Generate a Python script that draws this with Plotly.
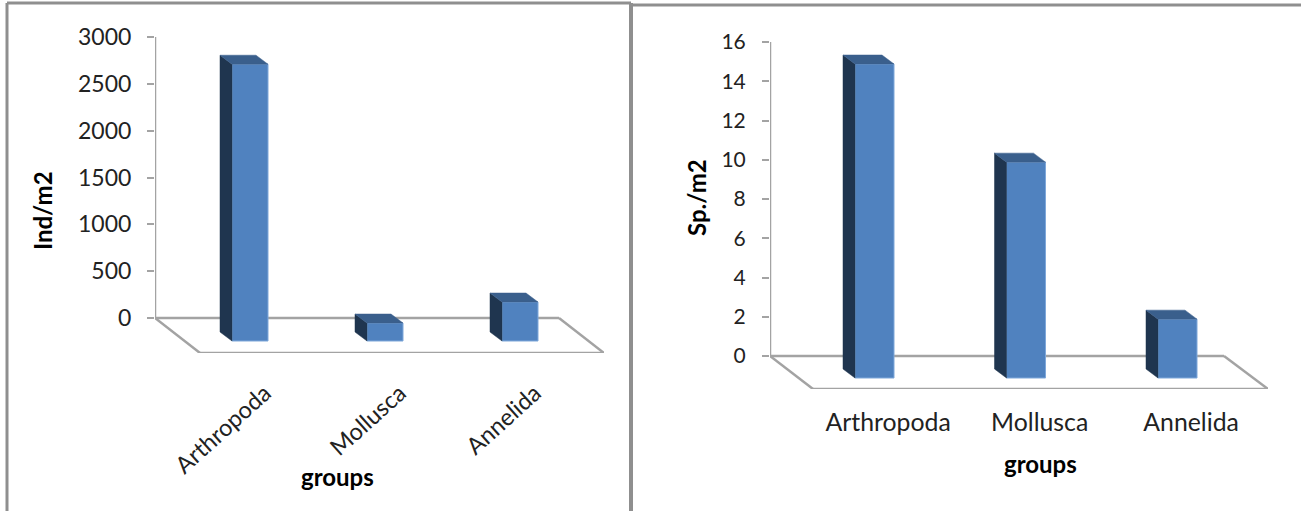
import plotly.graph_objects as go

W, H = 1301, 511
FONT = "Lato"
TXT = "#222222"
GREY = "#A3A3A3"
FRONT = "#5082BF"
EDGE = "#7FA8DA"
SIDE = "#1F354F"
TOP = "#3A5F8C"

categories = ["Arthropoda", "Mollusca", "Annelida"]
ind_values = [2955, 192, 416]
sp_values = [16, 11, 3]
ind_ticks = [0, 500, 1000, 1500, 2000, 2500, 3000]
sp_ticks = [0, 2, 4, 6, 8, 10, 12, 14, 16]

panels = [
    dict(vals=ind_values, ticks=ind_ticks, ax_left=155, floor_right=604, y_top=37, y_zero=318, y_floor=353,
         top_val=3000, first=250, step=135, bar_px=36, depth=(12, 9), base_px=23, floor_dx=45, floor_back_right=559,
         angle=-42, label_off=0.11, xs="x", ys="y", xstand=21, ystand=11, tick_size=23, xtick_size=23.5),
    dict(vals=sp_values, ticks=sp_ticks, ax_left=770, floor_right=1268, y_top=42, y_zero=356, y_floor=389,
         top_val=16, first=874.5, step=151.5, bar_px=39, depth=(12, 9), base_px=22, floor_dx=43, floor_back_right=1224,
         angle=0, label_off=0.09, xs="x2", ys="y2", xstand=16, ystand=12, tick_size=21, xtick_size=24.8),
]

fig = go.Figure()
shapes = []

def paper_line(x0, y0, x1, y1, width=3, color="#8F8F8F"):
    shapes.append(dict(type="line", xref="paper", yref="paper", x0=x0 / W, x1=x1 / W,
                       y0=1 - y0 / H, y1=1 - y1 / H, line=dict(color=color, width=width)))

for p in panels:
    unit = (p["y_zero"] - p["y_top"]) / p["top_val"]          # px per value unit
    xl = (p["ax_left"] - p["first"]) / p["step"]
    xr = (p["floor_right"] - p["first"]) / p["step"]
    yb = -(p["y_floor"] - p["y_zero"]) / unit
    base = -p["base_px"] / unit
    w = p["bar_px"] / p["step"]
    dx, dy = p["depth"][0] / p["step"], p["depth"][1] / unit
    xback = (p["floor_back_right"] - p["first"]) / p["step"]
    xfront = xl + p["floor_dx"] / p["step"]
    pos = list(range(len(categories)))

    floor = [(xl, 0, xback, 0), (xl, 0, xfront, yb), (xfront, yb, xr, yb), (xback, 0, xr, yb),
             (xl, 0, xl, p["top_val"])]
    for a, b, c, d in floor:
        shapes.append(dict(type="line", xref=p["xs"], yref=p["ys"], x0=a, y0=b, x1=c, y1=d, layer="below",
                           line=dict(color=GREY, width=2.5)))

    fig.add_trace(go.Bar(x=pos, y=p["vals"], base=base, width=w, xaxis=p["xs"], yaxis=p["ys"],
                         marker=dict(color=FRONT, line=dict(color=EDGE, width=1)), showlegend=False))
    for c, v in zip(pos, p["vals"]):
        top = base + v
        le, ri = c - w / 2, c + w / 2
        fig.add_trace(go.Scatter(x=[le, le - dx, le - dx, le, le], y=[base, base + dy, top + dy, top, base],
                                 mode="lines", fill="toself", fillcolor=SIDE, line=dict(color=SIDE, width=0.5),
                                 xaxis=p["xs"], yaxis=p["ys"], showlegend=False))
        fig.add_trace(go.Scatter(x=[le, le - dx, ri - dx, ri, le], y=[top, top + dy, top + dy, top, top],
                                 mode="lines", fill="toself", fillcolor=TOP, line=dict(color=TOP, width=0.5),
                                 xaxis=p["xs"], yaxis=p["ys"], showlegend=False))

    xname = "xaxis" if p["xs"] == "x" else "xaxis2"
    yname = "yaxis" if p["ys"] == "y" else "yaxis2"
    fig.update_layout(**{
        xname: dict(domain=[p["ax_left"] / W, p["floor_right"] / W], range=[xl, xr], anchor=p["ys"],
                    tickmode="array", tickvals=[c + p["label_off"] for c in pos], ticktext=categories,
                    tickangle=p["angle"], ticks="", showline=False, showgrid=False, zeroline=False,
                    ticklabelstandoff=p["xstand"], tickfont=dict(family=FONT, size=p["xtick_size"], color=TXT)),
        yname: dict(domain=[1 - p["y_floor"] / H, 1 - p["y_top"] / H], range=[yb, p["top_val"]], anchor=p["xs"],
                    tickmode="array", tickvals=p["ticks"], ticks="outside", ticklen=7, tickwidth=2, tickcolor=GREY,
                    showline=False, showgrid=False, zeroline=False, ticklabelstandoff=p["ystand"],
                    tickfont=dict(family=FONT, size=p["tick_size"], color=TXT)),
    })

paper_line(7, 3, 7, 511)
paper_line(7, 3, 631, 3)
paper_line(631, 3, 631, 511, width=4)
paper_line(631, 5, 1301, 5)


def note(text, x, y, angle=0):
    return dict(text=f"<b>{text}</b>", x=x / W, y=1 - y / H, xref="paper", yref="paper", showarrow=False,
                xanchor="center", yanchor="middle", textangle=angle,
                font=dict(family=FONT, size=24, color="#000000"))


fig.update_layout(
    width=W, height=H, margin=dict(l=0, r=0, t=0, b=0, autoexpand=False), paper_bgcolor="white",
    plot_bgcolor="rgba(0,0,0,0)", shapes=shapes, hovermode=False, showlegend=False,
    annotations=[note("groups", 337, 476), note("Ind/m2", 42, 211, -90),
                 note("groups", 1040, 463), note("Sp./m2", 696, 198, -90)],
)

fig.write_html("out.html", config={"displayModeBar": False},
               post_script="document.body.style.margin='0';document.body.style.overflow='hidden';")
